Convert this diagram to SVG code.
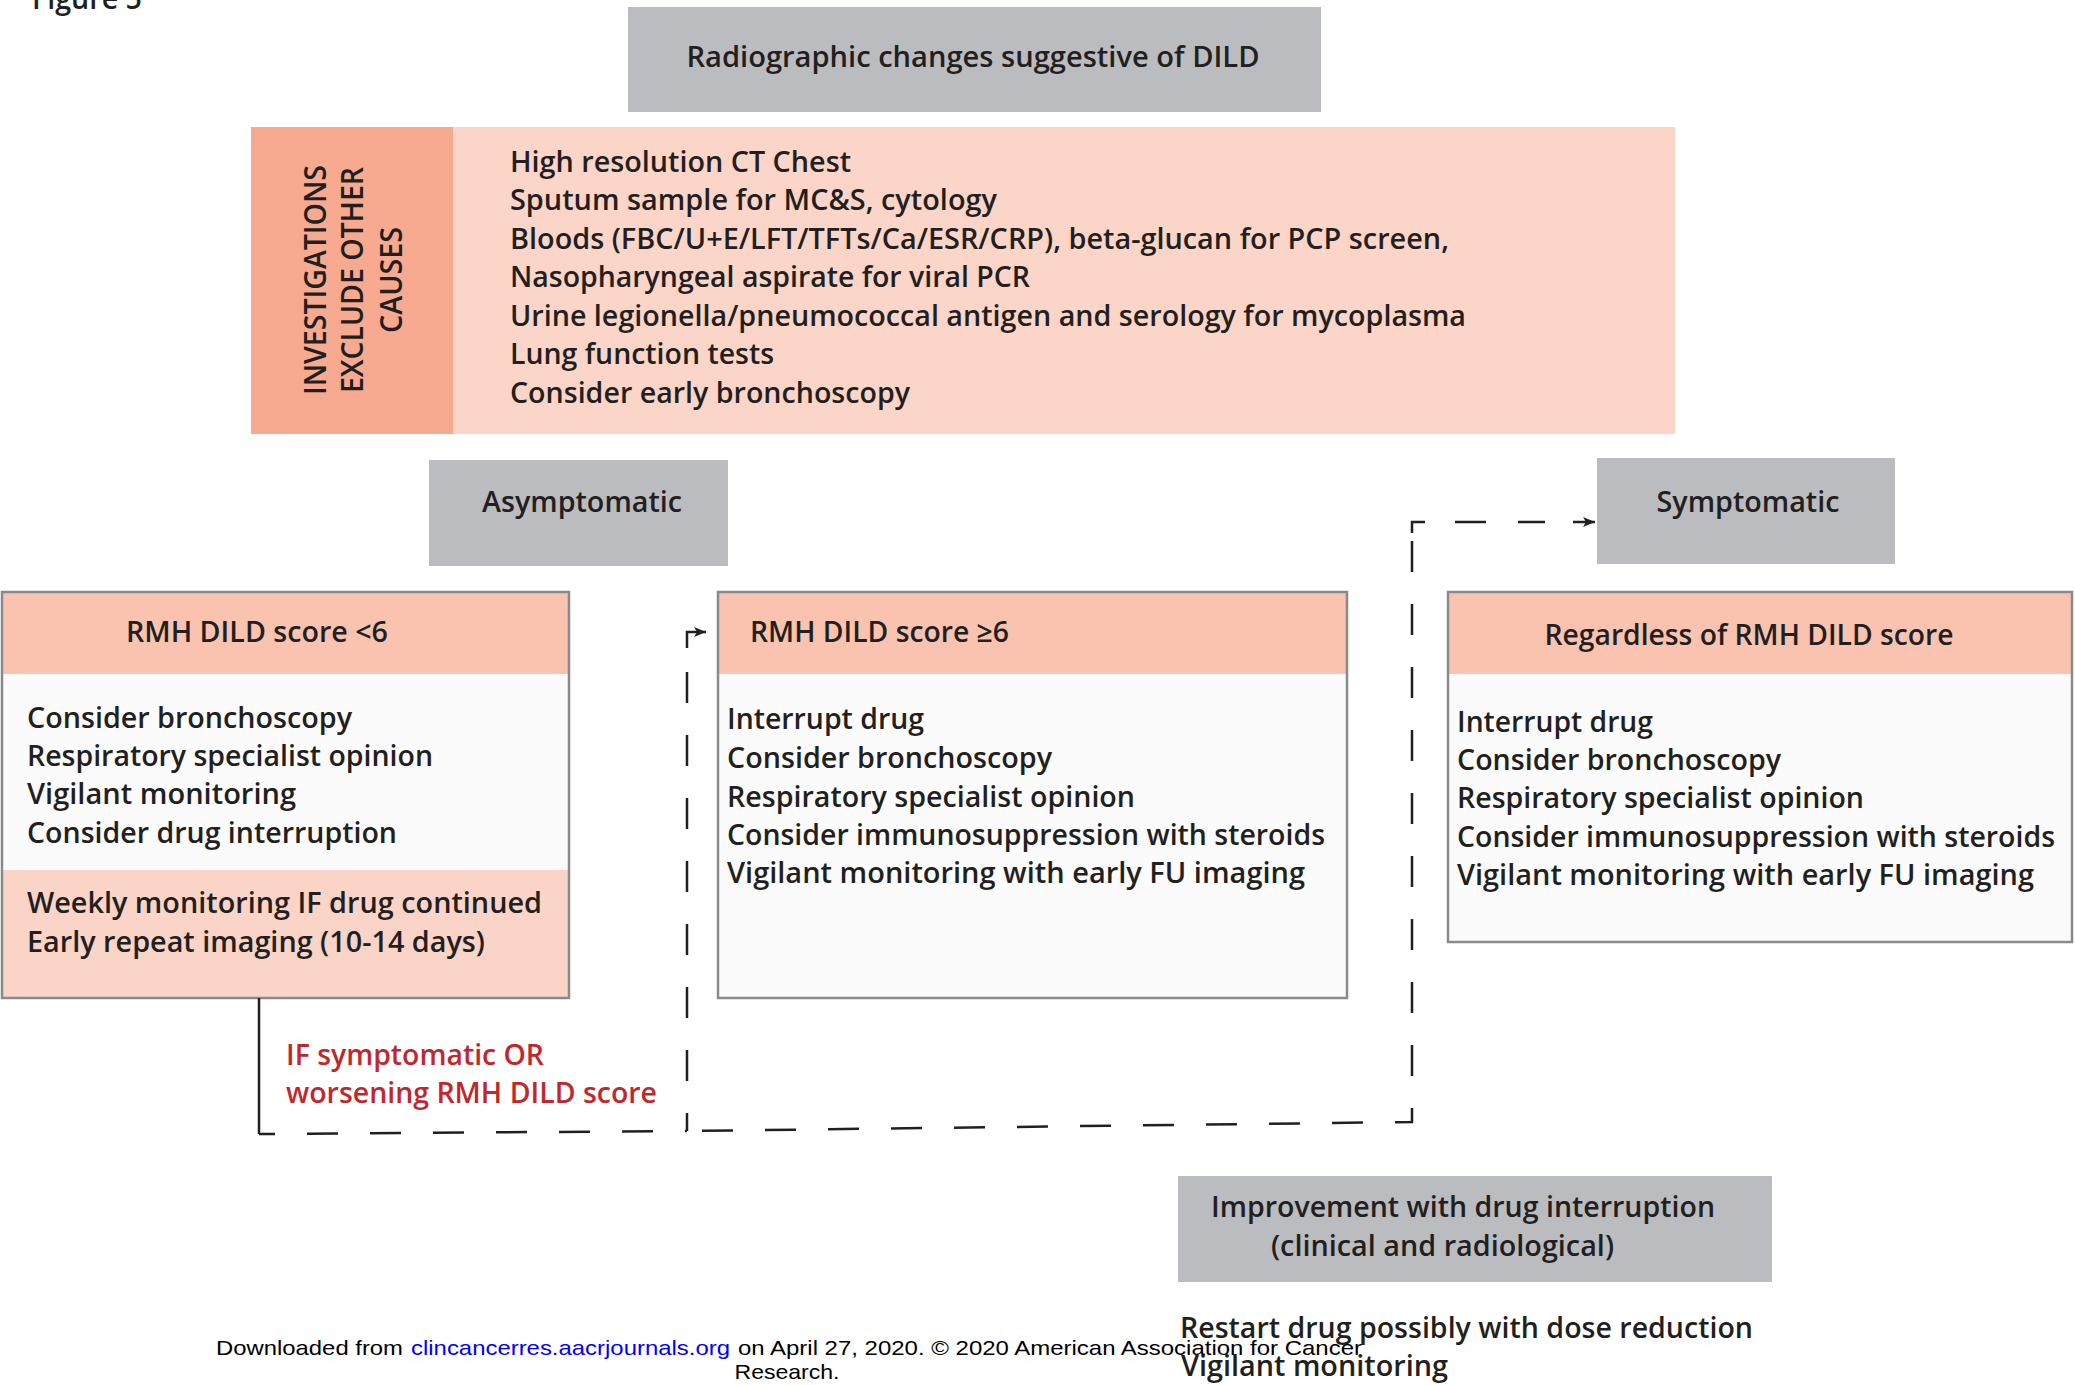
<svg xmlns="http://www.w3.org/2000/svg" width="2075" height="1385" viewBox="0 0 2075 1385">
<defs>
<style>
.t{font-family:"Open Sans","Liberation Sans",sans-serif;font-weight:600;font-size:28.5px;fill:#231F20}
.big{font-size:29.5px}
.red{fill:#C1272D}
.vt{font-family:"Open Sans","Liberation Sans",sans-serif;font-weight:600;font-size:30px;fill:#231F20}
.ft{font-family:"Liberation Sans",Arial,sans-serif;font-size:21px;fill:#000}
.link{fill:#0000FF}
.gray{fill:#BBBCC0}
.hdr{fill:#F9C3B0}
.body{fill:#FBFBFB}
.frame{fill:none;stroke:#898A8D;stroke-width:2.5}
.conn{fill:none;stroke:#231F20;stroke-width:2.5}
.dash{stroke-dasharray:31 32}
</style>
<marker id="arr" markerUnits="userSpaceOnUse" markerWidth="14" markerHeight="12" refX="12" refY="6" orient="auto">
<path d="M0,1 L12,6 L0,11 L3,6 Z" fill="#231F20"/>
</marker>
</defs>
<rect width="2075" height="1385" fill="#FFFFFF"/>

<text class="t" x="32" y="9" style="font-size:30px" textLength="110" lengthAdjust="spacingAndGlyphs">Figure 5</text>

<g id="node-radiographic">
<rect class="gray" x="628" y="7" width="693" height="105"/>
<text class="t big" x="973" y="67" text-anchor="middle" textLength="573" lengthAdjust="spacingAndGlyphs">Radiographic changes suggestive of DILD</text>
</g>

<g id="node-investigations">
<rect x="251" y="127" width="1424" height="307" fill="#FBD5C8"/>
<rect x="251" y="127" width="202" height="307" fill="#F7AA90"/>
<text class="vt" transform="translate(326,280) rotate(-90)" text-anchor="middle" textLength="230" lengthAdjust="spacingAndGlyphs">INVESTIGATIONS</text>
<text class="vt" transform="translate(363,280) rotate(-90)" text-anchor="middle" textLength="226" lengthAdjust="spacingAndGlyphs">EXCLUDE OTHER</text>
<text class="vt" transform="translate(402,280) rotate(-90)" text-anchor="middle" textLength="106" lengthAdjust="spacingAndGlyphs">CAUSES</text>
<text class="t big" x="510" y="172" textLength="341" lengthAdjust="spacingAndGlyphs">High resolution CT Chest</text>
<text class="t big" x="510" y="210" textLength="487" lengthAdjust="spacingAndGlyphs">Sputum sample for MC&amp;S, cytology</text>
<text class="t big" x="510" y="249" textLength="939" lengthAdjust="spacingAndGlyphs">Bloods (FBC/U+E/LFT/TFTs/Ca/ESR/CRP), beta-glucan for PCP screen,</text>
<text class="t big" x="510" y="287" textLength="520" lengthAdjust="spacingAndGlyphs">Nasopharyngeal aspirate for viral PCR</text>
<text class="t big" x="510" y="326" textLength="956" lengthAdjust="spacingAndGlyphs">Urine legionella/pneumococcal antigen and serology for mycoplasma</text>
<text class="t big" x="510" y="364" textLength="264" lengthAdjust="spacingAndGlyphs">Lung function tests</text>
<text class="t big" x="510" y="403" textLength="400" lengthAdjust="spacingAndGlyphs">Consider early bronchoscopy</text>
</g>

<g id="node-asymptomatic">
<rect class="gray" x="429" y="460" width="299" height="106"/>
<text class="t" x="582" y="512" text-anchor="middle" textLength="200" lengthAdjust="spacingAndGlyphs">Asymptomatic</text>
</g>

<g id="node-symptomatic">
<rect class="gray" x="1597" y="458" width="298" height="106"/>
<text class="t" x="1748" y="512" text-anchor="middle" textLength="183" lengthAdjust="spacingAndGlyphs">Symptomatic</text>
</g>

<g id="node-score-lt6">
<rect class="hdr" x="2" y="592" width="567" height="82"/>
<rect class="body" x="2" y="674" width="567" height="196"/>
<rect x="2" y="870" width="567" height="128" fill="#FAD4C7"/>
<rect class="frame" x="2" y="592" width="567" height="406"/>
<text class="t" x="257" y="642" text-anchor="middle" textLength="262" lengthAdjust="spacingAndGlyphs">RMH DILD score &lt;6</text>
<text class="t" x="27" y="728" textLength="325" lengthAdjust="spacingAndGlyphs">Consider bronchoscopy</text>
<text class="t" x="27" y="766" textLength="406" lengthAdjust="spacingAndGlyphs">Respiratory specialist opinion</text>
<text class="t" x="27" y="804" textLength="269" lengthAdjust="spacingAndGlyphs">Vigilant monitoring</text>
<text class="t" x="27" y="843" textLength="370" lengthAdjust="spacingAndGlyphs">Consider drug interruption</text>
<text class="t" x="27" y="913" textLength="515" lengthAdjust="spacingAndGlyphs">Weekly monitoring IF drug continued</text>
<text class="t" x="27" y="952" textLength="458" lengthAdjust="spacingAndGlyphs">Early repeat imaging (10-14 days)</text>
</g>

<g id="node-score-ge6">
<rect class="hdr" x="718" y="592" width="629" height="82"/>
<rect class="body" x="718" y="674" width="629" height="324"/>
<rect class="frame" x="718" y="592" width="629" height="406"/>
<text class="t" x="750" y="642" textLength="259" lengthAdjust="spacingAndGlyphs">RMH DILD score ≥6</text>
<text class="t" x="727" y="729" textLength="197" lengthAdjust="spacingAndGlyphs">Interrupt drug</text>
<text class="t" x="727" y="768" textLength="325" lengthAdjust="spacingAndGlyphs">Consider bronchoscopy</text>
<text class="t" x="727" y="807" textLength="408" lengthAdjust="spacingAndGlyphs">Respiratory specialist opinion</text>
<text class="t" x="727" y="845" textLength="598" lengthAdjust="spacingAndGlyphs">Consider immunosuppression with steroids</text>
<text class="t" x="727" y="883" textLength="578" lengthAdjust="spacingAndGlyphs">Vigilant monitoring with early FU imaging</text>
</g>

<g id="node-regardless">
<rect class="hdr" x="1448" y="592" width="624" height="82"/>
<rect class="body" x="1448" y="674" width="624" height="268"/>
<rect class="frame" x="1448" y="592" width="624" height="350"/>
<text class="t" x="1749" y="645" text-anchor="middle" textLength="409" lengthAdjust="spacingAndGlyphs">Regardless of RMH DILD score</text>
<text class="t" x="1457" y="732" textLength="196" lengthAdjust="spacingAndGlyphs">Interrupt drug</text>
<text class="t" x="1457" y="770" textLength="324" lengthAdjust="spacingAndGlyphs">Consider bronchoscopy</text>
<text class="t" x="1457" y="808" textLength="407" lengthAdjust="spacingAndGlyphs">Respiratory specialist opinion</text>
<text class="t" x="1457" y="847" textLength="598" lengthAdjust="spacingAndGlyphs">Consider immunosuppression with steroids</text>
<text class="t" x="1457" y="885" textLength="577" lengthAdjust="spacingAndGlyphs">Vigilant monitoring with early FU imaging</text>
</g>

<g id="node-improvement">
<rect class="gray" x="1178" y="1176" width="594" height="106"/>
<text class="t" x="1211" y="1217" textLength="504" lengthAdjust="spacingAndGlyphs">Improvement with drug interruption</text>
<text class="t" x="1271" y="1256" textLength="343" lengthAdjust="spacingAndGlyphs">(clinical and radiological)</text>
</g>

<g id="node-restart">
<text class="t big" x="1180" y="1338" textLength="573" lengthAdjust="spacingAndGlyphs">Restart drug possibly with dose reduction</text>
<text class="t big" x="1181" y="1376" textLength="267" lengthAdjust="spacingAndGlyphs">Vigilant monitoring</text>
</g>

<g id="connectors">
<path class="conn" d="M259,998 V1134"/>
<path class="conn dash" style="stroke-dashoffset:15" d="M259,1134 L687,1131"/>
<path class="conn dash" style="stroke-dashoffset:13" d="M687,1131 V652"/>
<path class="conn" d="M687,648 V632 H706" marker-end="url(#arr)"/>
<path class="conn dash" style="stroke-dashoffset:48" d="M687,1131 L1412,1122 V540"/>
<path class="conn" d="M1412,533 V522 H1425"/>
<path class="conn dash" style="stroke-dashoffset:0" d="M1455,522 H1545"/>
<path class="conn" d="M1573,522 H1595" marker-end="url(#arr)"/>
<text class="t red" x="286" y="1065" textLength="258" lengthAdjust="spacingAndGlyphs">IF symptomatic OR</text>
<text class="t red" x="286" y="1103" textLength="371" lengthAdjust="spacingAndGlyphs">worsening RMH DILD score</text>
</g>

<g id="footer">
<text class="ft" x="216" y="1355" textLength="187" lengthAdjust="spacingAndGlyphs">Downloaded from</text>
<text class="ft link" x="411" y="1355" textLength="319" lengthAdjust="spacingAndGlyphs">clincancerres.aacrjournals.org</text>
<text class="ft" x="738" y="1355" textLength="624" lengthAdjust="spacingAndGlyphs">on April 27, 2020. © 2020 American Association for Cancer</text>
<text class="ft" x="787" y="1379" text-anchor="middle" textLength="105" lengthAdjust="spacingAndGlyphs">Research.</text>
</g>
</svg>
